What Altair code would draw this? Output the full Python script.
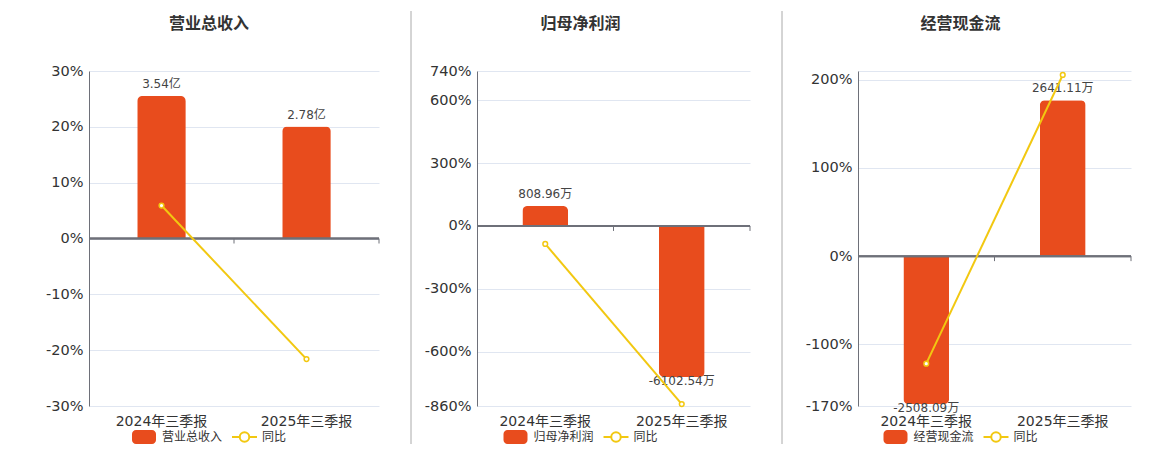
import altair as alt
import pandas as pd

FONT = "DejaVu Sans, Noto Sans CJK SC, sans-serif"
BAR = "#E84C1D"
LINE = "#F2C811"
AXIS = "#6E7079"
GRID = "#E0E6F1"

periods = ["2024年三季报", "2025年三季报"]
titles = ["营业总收入", "归母净利润", "经营现金流"]

revenue = [3.54, 2.78]  # 亿
revenue_text = ["3.54亿", "2.78亿"]
revenue_yoy = [5.9, -21.6]

profit = [808.96, -6102.54]  # 万
profit_text = ["808.96万", "-6102.54万"]
profit_yoy = [-86.0, -851.0]

cash = [-2508.09, 2641.11]  # 万
cash_text = ["-2508.09万", "2641.11万"]
cash_yoy = [-122.0, 205.5]

revenue_ticks = [-30, -20, -10, 0, 10, 20, 30]
profit_ticks = [-860, -600, -300, 0, 300, 600, 740]
cash_ticks = [-170, -100, 0, 100, 200, 210]

# hidden bar axes, zero lined up with the percent axis
revenue_bar_range = [-4.16, 4.16]
profit_bar_range = [-7276, 6265]
cash_bar_range = [-2542, 3136]

HEIGHT = 335


def panel(title, values, texts, yoy, ticks, bar_range, width, center, sep_x, sep_opacity, hide_top):
    frame = pd.DataFrame({"period": periods, "value": values, "label": texts, "yoy": yoy})
    base = alt.Chart(frame)
    pos = base.transform_filter("datum.value >= 0")
    neg = base.transform_filter("datum.value < 0")

    x = alt.X(
        "period:N",
        sort=periods,
        scale=alt.Scale(paddingInner=0, paddingOuter=0),
        axis=alt.Axis(title=None, domain=False, ticks=False, grid=False, labelAngle=0,
                      labelFontSize=14, labelColor="#333", labelPadding=8),
    )
    bar_y = alt.Y("value:Q", scale=alt.Scale(domain=bar_range, nice=False, zero=True), axis=None)

    bars = alt.layer(
        pos.mark_bar(color=BAR, width={"band": 0.335}, cornerRadiusTopLeft=5,
                     cornerRadiusTopRight=5).encode(x=x, y=bar_y),
        neg.mark_bar(color=BAR, width={"band": 0.335}, cornerRadiusBottomLeft=5,
                     cornerRadiusBottomRight=5).encode(x=x, y=bar_y),
        pos.mark_text(baseline="bottom", dy=-5, fontSize=12, color="#444").encode(
            x=x, y=bar_y, text="label:N"),
        neg.mark_text(baseline="top", dy=-1, fontSize=12, color="#444").encode(
            x=x, y=bar_y, text="label:N"),
    )

    top = ticks[-1]
    if hide_top:
        label_expr = f"datum.value == {top} ? '' : datum.value + '%'"
    else:
        label_expr = "datum.value + '%'"
    pct_y = alt.Y(
        "yoy:Q",
        scale=alt.Scale(domain=[ticks[0], top], nice=False, zero=False),
        axis=alt.Axis(title=None, values=ticks, labelExpr=label_expr, grid=True, gridColor=GRID,
                      domainColor=AXIS, ticks=False, labelFontSize=14.5, labelColor="#333",
                      labelPadding=6),
    )

    pct = alt.layer(
        base.mark_rule(color=AXIS, strokeWidth=2).encode(y=alt.datum(0)),
        base.mark_rule(color=AXIS, strokeWidth=1, y2Offset=5).encode(
            x=alt.X("period:N", sort=periods, bandPosition=1), y=alt.datum(0), y2=alt.datum(0)),
        base.mark_line(color=LINE, strokeWidth=2).encode(x=x, y=pct_y),
        base.mark_point(shape="circle", filled=True, fill="white", stroke=LINE, strokeWidth=1.5,
                        size=22, opacity=1).encode(x=x, y=pct_y),
    )

    lg = alt.Chart(pd.DataFrame({"name": [title], "yoy_name": ["同比"]}))
    ly = HEIGHT + 31
    decor = alt.layer(
        lg.mark_text(align="center", baseline="middle", fontSize=16, fontWeight="bold",
                     color="#333").encode(x=alt.value(center), y=alt.value(-47), text="name:N"),
        lg.mark_rect(color=BAR, cornerRadius=4).encode(
            x=alt.value(center - 77), x2=alt.value(center - 53),
            y=alt.value(ly - 7), y2=alt.value(ly + 7)),
        lg.mark_text(align="left", baseline="middle", fontSize=12, color="#333").encode(
            x=alt.value(center - 47), y=alt.value(ly), text="name:N"),
        lg.mark_rule(color=LINE, strokeWidth=2).encode(
            x=alt.value(center + 23), x2=alt.value(center + 48), y=alt.value(ly)),
        lg.mark_point(shape="circle", filled=True, fill="white", stroke=LINE, strokeWidth=2,
                      size=90, opacity=1).encode(x=alt.value(center + 35.5), y=alt.value(ly)),
        lg.mark_text(align="left", baseline="middle", fontSize=12, color="#333").encode(
            x=alt.value(center + 53), y=alt.value(ly), text="yoy_name:N"),
        lg.mark_rule(color="#AAAAAA", strokeWidth=1, opacity=sep_opacity).encode(
            x=alt.value(sep_x), y=alt.value(-60), y2=alt.value(373)),
    )

    return alt.layer(bars, pct, decor).resolve_scale(y="independent").properties(
        width=width, height=HEIGHT)


p1 = panel(titles[0], revenue, revenue_text, revenue_yoy, revenue_ticks, revenue_bar_range,
           290, 120, -81, 0, False)
p2 = panel(titles[1], profit, profit_text, profit_yoy, profit_ticks, profit_bar_range,
           273, 103.5, -66, 1, False)
p3 = panel(titles[2], cash, cash_text, cash_yoy, cash_ticks, cash_bar_range,
           273, 102.5, -76, 1, True)

chart = (
    alt.hconcat(p1, p2, p3, spacing=30)
    .properties(padding={"left": 0, "top": 2, "right": 0, "bottom": 0})
    .configure(font=FONT)
    .configure_view(strokeWidth=0)
)

chart.save("out.html", embed_options={"renderer": "svg", "actions": False})
